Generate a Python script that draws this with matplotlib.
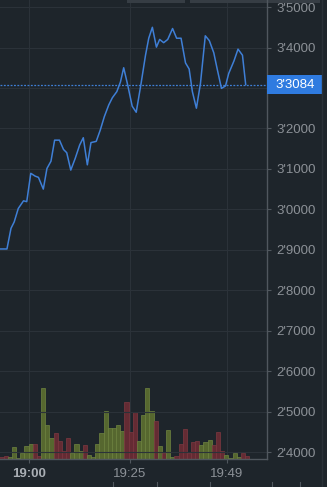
import numpy as np
import matplotlib
matplotlib.use('agg')
import matplotlib.pyplot as plt
import matplotlib.transforms as mtransforms
from matplotlib.patches import Rectangle
from matplotlib.lines import Line2D

plt.rcParams['font.family'] = ['Liberation Sans', 'DejaVu Sans']

## data (minutes relative to 19:00)
line_t = [-7.1, -5.4, -4.4, -3.6, -2.6, -1.3, -0.5, 0.5, 1.6, 2.4, 3.6, 4.5, 5.5, 6.4, 7.6,
          8.6, 9.4, 10.4, 11.5, 12.6, 13.5, 14.5, 15.4, 16.7, 17.7, 18.7, 19.8, 20.7, 21.8,
          22.7, 23.5, 24.5, 25.6, 26.6, 27.8, 28.9, 29.7, 30.6, 31.6, 32.4, 33.4, 34.4, 35.6,
          36.6, 37.7, 38.8, 39.7, 40.5, 41.5, 42.5, 43.7, 44.7, 45.8, 46.6, 47.7, 48.7, 49.5,
          50.8, 51.8, 52.9, 53.7]
price = [2.902, 2.902, 2.953, 2.969, 3.002, 3.021, 3.019, 3.089, 3.082, 3.079, 3.050, 3.101,
         3.119, 3.171, 3.171, 3.148, 3.140, 3.097, 3.126, 3.159, 3.177, 3.110, 3.165, 3.168,
         3.196, 3.229, 3.258, 3.276, 3.291, 3.315, 3.350, 3.307, 3.255, 3.240, 3.311, 3.381,
         3.423, 3.450, 3.401, 3.420, 3.412, 3.420, 3.447, 3.423, 3.423, 3.362, 3.347, 3.291,
         3.250, 3.311, 3.429, 3.417, 3.387, 3.349, 3.299, 3.305, 3.336, 3.367, 3.396, 3.381,
         3.3084]
last_price = 3.3084

volume = [1.3, 3, 2, 12, 1, 6, 13, 15, 15, 3, 71, 34, 21, 26, 18, 8, 21, 6, 15, 8, 14, 4, 2,
          15, 26, 48, 31, 31, 34, 28, 57, 27, 47, 18, 44, 71, 48, 38, 13, 6, 29, 2, 3, 15, 30,
          6, 17, 18, 14, 17, 19, 14, 27, 8, 4, 1, 6, 2, 6, 3]
vol_up = [0, 0, 1, 1, 1, 1, 1, 1, 0, 0, 1, 1, 1, 0, 0, 0, 0, 1, 1, 1, 0, 1, 1,
          1, 1, 1, 1, 1, 1, 1, 0, 0, 0, 1, 1, 1, 1, 0, 1, 0, 1, 1, 0, 0, 0,
          0, 0, 0, 1, 1, 1, 0, 0, 0, 1, 1, 1, 1, 0, 0]

xticks = [0, 25, 49]
xtick_labels = ['19:00', '19:25', '19:49']
yticks = [2.4, 2.5, 2.6, 2.7, 2.8, 2.9, 3.0, 3.1, 3.2, 3.3, 3.4, 3.5]

bg = '#1e252b'
grid_c = '#2b3239'
txt_c = '#8c9197'
blue = '#3f7fd6'

W, H = 327, 487
fig = plt.figure(figsize=(W / 100, H / 100), dpi=100, facecolor=bg)
bottom_px = 458.5
right_px = 266.7
ax = fig.add_axes([0, 1 - bottom_px / H, right_px / W, bottom_px / H])
ax.set_facecolor(bg)

# volume bars on a twin axis
axv = ax.twinx()
axv.set_zorder(0)
ax.set_zorder(1)
ax.patch.set_visible(False)
axv.set_facecolor(bg)
bar_t = -6.75 + np.arange(len(volume)) * 1.031
cols = ['#56672f' if u else '#642b33' for u in vol_up]
edges = ['#6f8440' if u else '#7e3841' for u in vol_up]
axv.bar(bar_t, volume, width=1.03, color=cols, edgecolor=edges, linewidth=0.5)
axv.set_ylim(0, bottom_px)
axv.set_yticks([])
for s in axv.spines.values():
    s.set_visible(False)

# grid
for y in yticks:
    ax.axhline(y, color=grid_c, lw=0.8, zorder=0)
for x in xticks:
    axv.axvline(x, color=grid_c, lw=0.8, zorder=0)

ax.plot(line_t, price, color=blue, lw=1.1, zorder=3)
ax.axhline(last_price, color=blue, lw=0.9, ls=(0, (1.5, 1.2)), zorder=2)

ax.set_xlim(-7.12, 58.9)
ax.set_ylim(2.384, 3.5175)

ax.yaxis.tick_right()
ax.set_yticks(yticks)
# the 3'3000 label sits under the last price box
ax.set_yticklabels(['' if abs(v - 3.3) < 1e-9 else f"{v:.4f}".replace('.', "'") for v in yticks])
ax.set_xticks(xticks)
ax.set_xticklabels(xtick_labels)
ax.tick_params(axis='y', colors='#50575e', labelcolor=txt_c, length=3, width=0.8,
               pad=4.0, labelsize=9.5)
ax.tick_params(axis='x', colors='#50575e', labelcolor=txt_c, length=3, width=0.8,
               pad=3.5, labelsize=9.5)
ax.get_xticklabels()[0].set_fontweight('bold')
ax.get_xticklabels()[0].set_color('#a9aeb4')
for s in ['top', 'left']:
    ax.spines[s].set_visible(False)
for s in ['right', 'bottom']:
    ax.spines[s].set_color('#50575e')
    ax.spines[s].set_linewidth(1.0)

# last price label
trans = mtransforms.blended_transform_factory(ax.transAxes, ax.transData)
box_w = 55 / right_px
box_h = 19 / 404.5
ax.add_patch(Rectangle((1.0, last_price - box_h / 2), box_w, box_h, transform=trans,
                       facecolor='#2f7be0', edgecolor='none', clip_on=False, zorder=5))
ax.text(1.0 + 8.5 / right_px, last_price, "3'3084", transform=trans, color='white',
        fontsize=9.5, va='center', ha='left', zorder=6)

# frame bits around the panel
fig.add_artist(Rectangle((127 / W, 1 - 3 / H), 58 / W, 3 / H, transform=fig.transFigure,
                         facecolor='#363d44', edgecolor='none'))
fig.add_artist(Rectangle((190 / W, 1 - 3 / H), 130 / W, 3 / H, transform=fig.transFigure,
                         facecolor='#363d44', edgecolor='none'))
fig.add_artist(Line2D([322 / W, 322 / W], [0, 1], transform=fig.transFigure,
                      color='#2a3138', lw=1.0))
for xp in [113, 157, 210, 272, 300]:
    fig.add_artist(Line2D([xp / W, xp / W], [1 - 482 / H, 1 - 486 / H],
                          transform=fig.transFigure, color='#50575e', lw=0.8))

fig.savefig('out.png', dpi=100, facecolor=bg)
